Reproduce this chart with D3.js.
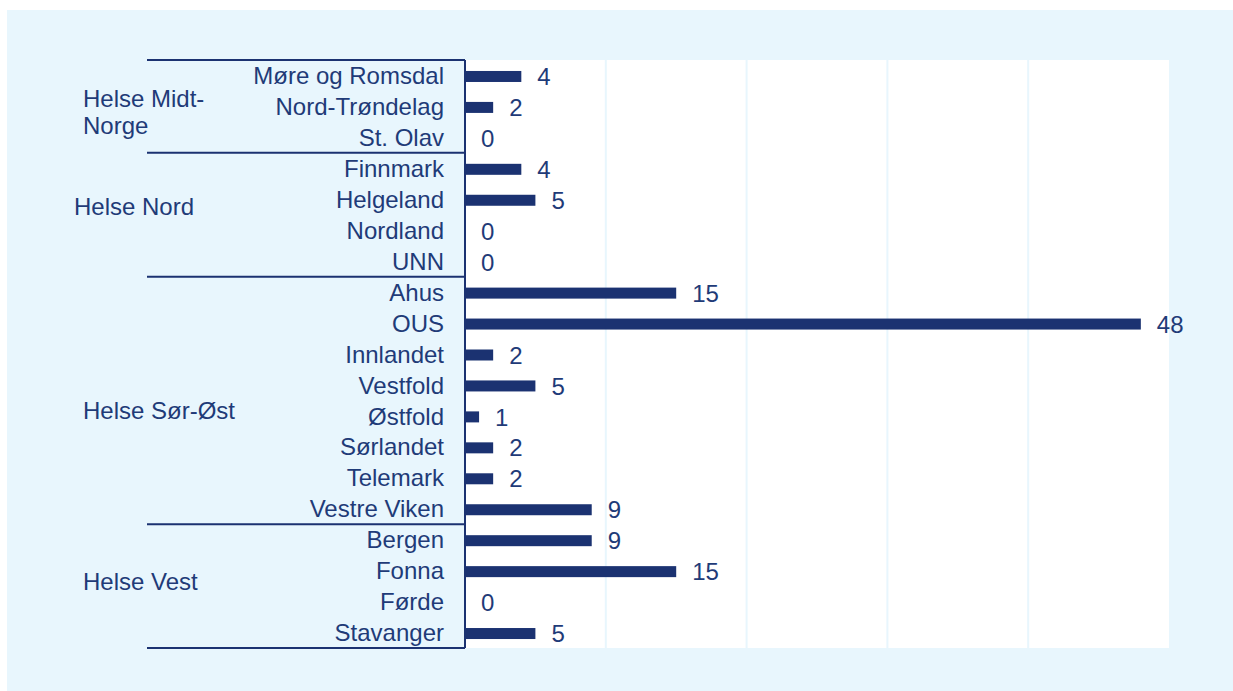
<!DOCTYPE html>
<html><head><meta charset="utf-8">
<script src="https://cdn.jsdelivr.net/npm/d3@7"></script>
<style>html,body{margin:0;padding:0;background:#fff;}svg{display:block;}</style>
</head><body>
<script>
// ---- data ----
const groups = ["Helse Midt-Norge", "Helse Nord", "Helse Sør-Øst", "Helse Vest"];
const groupLabelLines = [["Helse Midt-", "Norge"], ["Helse Nord"], ["Helse Sør-Øst"], ["Helse Vest"]];
const categories = ["Møre og Romsdal", "Nord-Trøndelag", "St. Olav",
  "Finnmark", "Helgeland", "Nordland", "UNN",
  "Ahus", "OUS", "Innlandet", "Vestfold", "Østfold", "Sørlandet", "Telemark", "Vestre Viken",
  "Bergen", "Fonna", "Førde", "Stavanger"];
const categoryGroup = [0,0,0, 1,1,1,1, 2,2,2,2,2,2,2,2, 3,3,3,3];
const values = [4,2,0, 4,5,0,0, 15,48,2,5,1,2,2,9, 9,15,0,5];
const xTicks = [0,10,20,30,40,50];

// ---- layout ----
const W = 1233, H = 691;
const plot = {left: 465, right: 1169, top: 60, bottom: 648};
const lineLeft = 147;
const navy = "#1b3271", textCol = "#1f3b78", panel = "#e8f6fd";
const font = "'Liberation Sans', Arial, sans-serif";
const fs = 24;

const svg = d3.select("body").append("svg").attr("width", W).attr("height", H);
svg.append("rect").attr("x", 7).attr("y", 10).attr("width", W - 7).attr("height", H - 10).attr("fill", panel);
svg.append("rect").attr("x", plot.left).attr("y", plot.top)
  .attr("width", plot.right - plot.left).attr("height", plot.bottom - plot.top).attr("fill", "#fff");

const x = d3.scaleLinear().domain([0, 50]).range([plot.left, plot.right]);
const y = d3.scaleBand().domain(d3.range(categories.length)).range([plot.top, plot.bottom]).paddingInner(0).paddingOuter(0);

// gridlines
svg.append("g").selectAll("line").data(xTicks.filter(t => t > 0 && t < 50)).join("line")
  .attr("x1", d => x(d)).attr("x2", d => x(d)).attr("y1", plot.top).attr("y2", plot.bottom)
  .attr("stroke", panel).attr("stroke-width", 2);

// bars
const barH = 11;
svg.append("g").selectAll("rect").data(values).join("rect")
  .attr("x", x(0)).attr("y", (d, i) => y(i) + y.bandwidth() / 2 - barH / 2 + 1)
  .attr("width", d => x(d) - x(0)).attr("height", barH).attr("fill", navy);

// value labels
svg.append("g").selectAll("text").data(values).join("text")
  .attr("x", d => x(d) + 16).attr("y", (d, i) => y(i) + y.bandwidth() / 2 + 1)
  .attr("dy", "0.36em").attr("font-family", font).attr("font-size", fs).attr("fill", textCol)
  .text(d => d);

// category labels
svg.append("g").selectAll("text").data(categories).join("text")
  .attr("x", plot.left - 21).attr("y", (d, i) => y(i) + y.bandwidth() / 2)
  .attr("dy", "0.36em").attr("text-anchor", "end").attr("font-family", font).attr("font-size", fs)
  .attr("fill", textCol).text(d => d);

// axis line
svg.append("line").attr("x1", plot.left).attr("x2", plot.left).attr("y1", plot.top).attr("y2", plot.bottom)
  .attr("stroke", navy).attr("stroke-width", 2);

// group boundaries
const bounds = [0];
groups.forEach((g, gi) => { bounds.push(d3.max(d3.range(categories.length).filter(i => categoryGroup[i] === gi)) + 1); });
const boundY = i => i >= categories.length ? plot.bottom : y(i);
svg.append("g").selectAll("line").data(bounds).join("line")
  .attr("x1", lineLeft).attr("x2", plot.left).attr("y1", d => boundY(d)).attr("y2", d => boundY(d))
  .attr("stroke", navy).attr("stroke-width", 2);

// group labels
const groupLabelX = [83, 74, 83, 83];
const groupLabelDy = [5, -8, 10, -5];
groups.forEach((g, gi) => {
  const y0 = boundY(bounds[gi]), y1 = boundY(bounds[gi + 1]);
  const cy = (y0 + y1) / 2 + groupLabelDy[gi];
  const lines = groupLabelLines[gi];
  const lh = 27;
  lines.forEach((ln, li) => {
    svg.append("text").attr("x", groupLabelX[gi])
      .attr("y", cy + (li - (lines.length - 1) / 2) * lh).attr("dy", "0.36em")
      .attr("font-family", font).attr("font-size", fs).attr("fill", textCol).text(ln);
  });
});
</script>
</body></html>
